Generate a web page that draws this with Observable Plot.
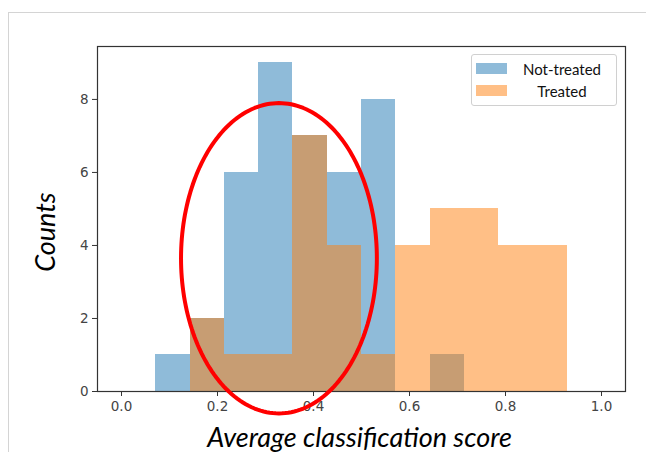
<!DOCTYPE html>
<html>
<head>
<meta charset="utf-8">
<script src="https://cdn.jsdelivr.net/npm/d3@7"></script>
<script src="https://cdn.jsdelivr.net/npm/@observablehq/plot@0.6"></script>
<style>
  html, body { margin: 0; padding: 0; background: #fff; overflow: hidden; }
  #wrap { position: relative; width: 646px; height: 452px; }
  #border { position: absolute; left: 8px; top: 12px; width: 700px; height: 500px; border: 1px solid #d4d4d4; box-sizing: border-box; }
  #chart { position: absolute; left: 0; top: 0; }
  #legend { position: absolute; left: 471px; top: 54px; width: 146px; height: 52px; box-sizing: border-box;
            border: 1px solid #d0d0d0; border-radius: 3px; background: rgba(255,255,255,0.85);
            font-family: Lato, "Open Sans", sans-serif; font-size: 15px; color: #111; }
  .item { position: absolute; left: 0; width: 146px; height: 20px; }
  .sw { position: absolute; left: 4px; width: 31px; height: 11px; }
  .lab { position: absolute; left: 40px; width: 100px; text-align: center; line-height: 20px; }
</style>
</head>
<body>
<div id="wrap">
  <div id="border"></div>
  <div id="chart"></div>
  <div id="legend"></div>
</div>
<script>
// Bin edges (shared by both histograms)
const binEdges = [0.071, 0.143, 0.214, 0.286, 0.357, 0.429, 0.5, 0.571, 0.643, 0.714, 0.786, 0.857, 0.929];
// Counts per bin
const notTreatedCounts = [1, 2, 6, 9, 7, 6, 8, 0, 1, 0, 0, 0];
const treatedCounts    = [0, 2, 1, 1, 7, 4, 1, 4, 5, 5, 4, 4];
const seriesNames = ["Not-treated", "Treated"];
const seriesColors = ["#1f77b4", "#ff7f0e"];
const xTicks = [0, 0.2, 0.4, 0.6, 0.8, 1.0];
const yTicks = [0, 2, 4, 6, 8];
const xLabel = "Average classification score";
const yLabel = "Counts";
// Red annotation ellipse (data units): center x, center y; radius x, radius y
const ellipseCenter = [0.328, 3.65];
const ellipseRadii = [0.204, 4.25];

const toBins = counts => counts.map((c, i) => ({x1: binEdges[i], x2: binEdges[i + 1], count: c})).filter(d => d.count > 0);
const blue = toBins(notTreatedCounts);
const orange = toBins(treatedCounts);
const ellipse = d3.range(0, 201).map(i => {
  const t = (i / 200) * 2 * Math.PI;
  return {x: ellipseCenter[0] + ellipseRadii[0] * Math.cos(t), y: ellipseCenter[1] + ellipseRadii[1] * Math.sin(t)};
});

const plot = Plot.plot({
  width: 646,
  height: 452,
  marginLeft: 97,
  marginRight: 21,
  marginTop: 46,
  marginBottom: 61,
  style: {fontFamily: "DejaVu Sans", fontSize: "13.5px", color: "#444", background: "transparent"},
  x: {domain: [-0.05, 1.05]},
  y: {domain: [0, 9.45]},
  marks: [
    Plot.rect(blue, {x1: "x1", x2: "x2", y1: 0, y2: "count", fill: seriesColors[0], fillOpacity: 0.5, inset: 0, shapeRendering: "crispEdges"}),
    Plot.rect(orange, {x1: "x1", x2: "x2", y1: 0, y2: "count", fill: seriesColors[1], fillOpacity: 0.5, inset: 0, shapeRendering: "crispEdges"}),
    Plot.frame({stroke: "#333", strokeWidth: 1.2}),
    Plot.axisX({ticks: xTicks, tickFormat: d3.format(".1f"), tickSize: 5, tickPadding: 5, label: null, stroke: "#333"}),
    Plot.axisY({ticks: yTicks, tickSize: 5, tickPadding: 4, label: null, stroke: "#333"}),
    Plot.line(ellipse, {x: "x", y: "y", stroke: "#ff0000", strokeWidth: 4, curve: "linear"}),
    Plot.text([xLabel], {frameAnchor: "bottom", text: d => d, dx: -2, dy: 55, fontSize: 27, fontStyle: "italic", fontFamily: "Lato", fill: "#000"}),
    Plot.text([yLabel], {frameAnchor: "left", textAnchor: "middle", text: d => d, dx: -51, dy: 13, rotate: -90, fontSize: 27, fontStyle: "italic", fontFamily: "Lato", fill: "#000"})
  ]
});
document.getElementById("chart").appendChild(plot);

const legend = document.getElementById("legend");
seriesNames.forEach((name, i) => {
  const item = document.createElement("div");
  item.className = "item";
  item.style.top = (4 + i * 22) + "px";
  const sw = document.createElement("div");
  sw.className = "sw";
  sw.style.top = "4px";
  sw.style.background = seriesColors[i];
  sw.style.opacity = 0.5;
  const lab = document.createElement("div");
  lab.className = "lab";
  lab.textContent = name;
  item.appendChild(sw);
  item.appendChild(lab);
  legend.appendChild(item);
});
</script>
</body>
</html>
